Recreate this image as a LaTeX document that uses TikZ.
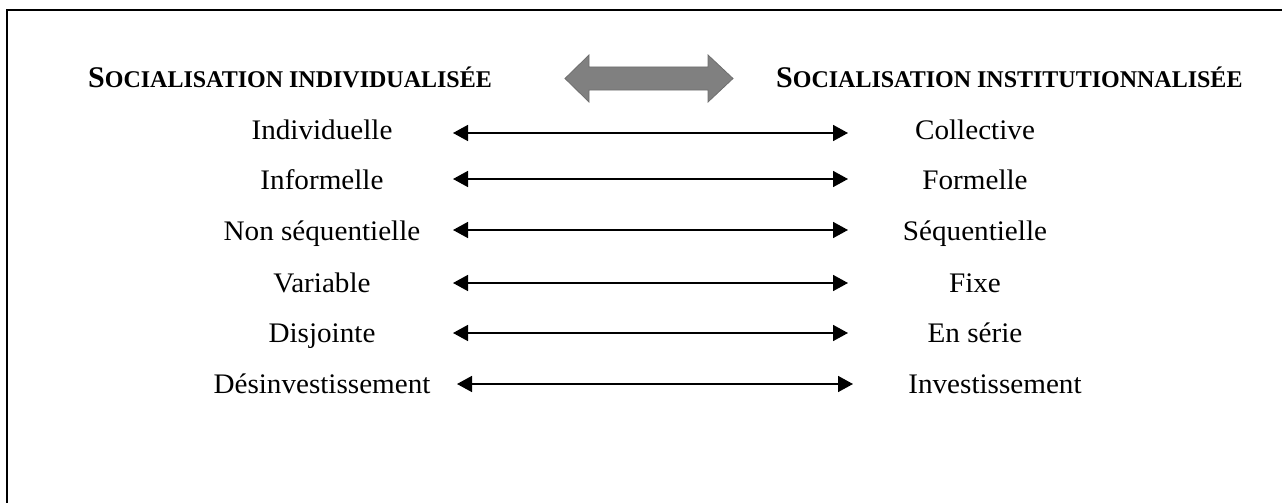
\documentclass[tikz,border=0pt]{standalone}
\usepackage{fontspec}
\setmainfont{Liberation Serif}
\newfontfamily\bodyfont[FakeStretch=1.03]{Liberation Serif}
\usetikzlibrary{arrows.meta}
\definecolor{biggray}{HTML}{808080}
\definecolor{bigedge}{HTML}{6E6E6E}
\newcommand{\bigS}[1]{{\fontsize{30}{30}\selectfont #1}}
\newcommand{\smallC}[1]{{\fontsize{24}{24}\selectfont #1}}
\begin{document}
\begin{tikzpicture}[x=1pt,y=-1pt,
  lbl/.style={font=\bodyfont\fontsize{28.3}{30}\selectfont, inner sep=0pt, anchor=base},
  ttl/.style={font=\bfseries, inner sep=0pt, anchor=base west},
  link/.style={line width=1.6pt, {Triangle[length=15pt,width=16pt]}-{Triangle[length=15pt,width=16pt]}},
  frame/.style={line width=2.4pt}]
\useasboundingbox (0,0) rectangle (1282,503);
% frame (top and left edges)
\coordinate (fbl) at (7,503);
\coordinate (ftl) at (7,10);
\coordinate (ftr) at (1282,10);
\draw[frame] (fbl) -- (ftl) -- (ftr);
% titles
\node[ttl] (T1) at (88,87) {\bigS{S}\smallC{OCIALISATION INDIVIDUALIS\'EE}};
\node[ttl] (T2) at (776,87) {\bigS{S}\smallC{OCIALISATION INSTITUTIONNALIS\'EE}};
% big double arrow
\fill[biggray, draw=bigedge, line width=0.8pt] (565,78.5) -- (589,55) -- (589,67) -- (708,67) -- (708,55) -- (733,78.5) -- (708,102) -- (708,90) -- (589,90) -- (589,102) -- cycle;
% rows
\node[lbl] (L1) at (322,139) {Individuelle};
\node[lbl] (R1) at (975,139) {Collective};
\node[lbl] (L2) at (322,189) {Informelle};
\node[lbl] (R2) at (975,189) {Formelle};
\node[lbl] (L3) at (322,240) {Non séquentielle};
\node[lbl] (R3) at (975,240) {Séquentielle};
\node[lbl] (L4) at (322,292) {Variable};
\node[lbl] (R4) at (975,292) {Fixe};
\node[lbl] (L5) at (322,342) {Disjointe};
\node[lbl] (R5) at (975,342) {En série};
\node[lbl] (L6) at (322,393) {Désinvestissement};
\node[lbl] (R6) at (995,393) {Investissement};
% arrow ends
\coordinate (a1) at (453,133); \coordinate (b1) at (848,133);
\coordinate (a2) at (453,179); \coordinate (b2) at (848,179);
\coordinate (a3) at (453,230); \coordinate (b3) at (848,230);
\coordinate (a4) at (453,283); \coordinate (b4) at (848,283);
\coordinate (a5) at (453,333); \coordinate (b5) at (848,333);
\coordinate (a6) at (457,384); \coordinate (b6) at (853,384);
\foreach \i in {1,...,6} {\draw[link] (a\i) -- (b\i);}
\end{tikzpicture}
\end{document}
